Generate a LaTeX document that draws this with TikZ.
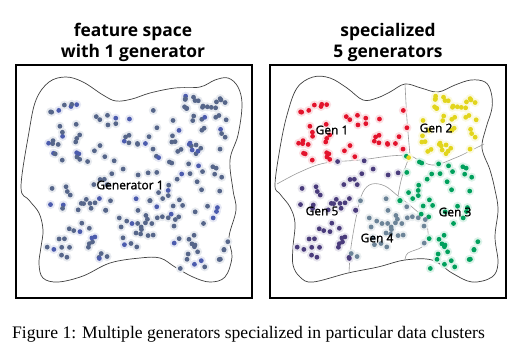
\documentclass[tikz,border=0pt]{standalone}
\usepackage{fontspec}
\setmainfont{Liberation Serif}
\newfontfamily\osans{Open Sans}
\newfontfamily\osanslbl[FakeBold=1.2]{Open Sans}
\definecolor{dotL}{HTML}{56668A}
\definecolor{dotLb}{HTML}{4C5CAE}
\definecolor{cRed}{HTML}{E3132C}
\definecolor{cYel}{HTML}{E2D51C}
\definecolor{cGrn}{HTML}{00A05C}
\definecolor{cPur}{HTML}{4A3C7C}
\definecolor{cSte}{HTML}{6C8498}
\definecolor{blobline}{HTML}{404040}
\definecolor{divline}{HTML}{9A9A9A}
\tikzset{
  frame/.style={draw=black,line width=2.2pt},
  blob/.style={draw=blobline,line width=0.7pt},
  divider/.style={draw=divline,line width=0.6pt},
  ttl/.style={font=\osans\bfseries\fontsize{17.4}{20}\selectfont,anchor=base,inner sep=0pt},
  lbl/.style={font=\osanslbl\fontsize{12}{14}\selectfont,inner sep=0pt},
  captext/.style={font=\fontsize{17.6}{20}\selectfont,anchor=base west,inner sep=0pt},
}
\def\dotmode{0}
\def\dotpass{0}
\newcommand\dotat[3]{%
  \ifnum\dotmode=0
    \pgfmathtruncatemacro\blu{#3<0.22?1:0}%
    \ifnum\blu=1 \def\dc{dotLb}\else\def\dc{dotL}\fi
    \edef\X{#1}%
  \else
    \pgfmathsetmacro\X{#1+250}%
    \pgfmathsetmacro\gone{\X<320 ? 163+(320-\X)*0.49 : 163-(\X-320)*0.125}%
    \pgfmathsetmacro\gtwo{160-(\X-411)*0.18}%
    \pgfmathtruncatemacro\reg{(\X<408 && #2<\gone) ? 1 : ((\X>=408 && #2<\gtwo) ? 2 : ((#2>185+max(0,\X-375)*0.65 && \X<428 && \X>350+max(0,250-#2)*0.2) ? 4 : ((\X>404-(#2-155)*0.2) ? 3 : 5)))}%
    \ifcase\reg\or\def\dc{cRed}\or\def\dc{cYel}\or\def\dc{cGrn}\or\def\dc{cSte}\or\def\dc{cPur}\fi
  \fi
  \ifnum\dotpass=0
    \fill[\dc!14] (\X,#2) circle (4.5);
  \else
    \fill[\dc] (\X,#2) circle (2.4);
  \fi}
\newcommand\dotrect[5]{%
  \foreach \i in {1,...,#1}{%
    \pgfmathsetmacro\px{#2+#3*rnd}%
    \pgfmathsetmacro\py{#4+#5*rnd}%
    \pgfmathsetmacro\pc{rnd}%
    \dotat{\px}{\py}{\pc}%
  }}
\newcommand\dotpanel{%
  \pgfmathsetseed{4711}%
  \dotrect{78}{47}{65}{104}{156}%
  \dotrect{120}{112}{116}{110}{143}%
  \dotrect{10}{178}{50}{96}{14}%
  \dotrect{8}{180}{45}{254}{16}%
  \dotrect{8}{185}{25}{95}{15}%
}
\begin{document}
\begin{tikzpicture}[x=1pt,y=-1pt]
\useasboundingbox (0,0) rectangle (529,351);
\fill[white] (0,0) rectangle (529,351);
% titles
\node[ttl] (t1a) at (133,36) {feature space};
\node[ttl] (t1b) at (133,57) {with 1 generator};
\node[ttl] (t2a) at (388,36) {specialized};
\node[ttl] (t2b) at (388,57) {5 generators};
% left blob
\draw[blob] plot[smooth cycle,tension=0.6] coordinates {
 (21,187) (29,132) (36,100) (49,82) (66,77) (83,82) (103,95) (116,101)
 (132,99) (150,93) (175,88) (200,87) (215,80) (228,78) (238,87) (242,105)
 (238,135) (230,160) (233,190) (236,210) (229,237) (232,257) (225,277)
 (210,282) (193,277) (175,267) (160,258) (140,258) (110,263) (83,276)
 (58,282) (43,278) (39,264) (41,247) (43,230) (39,213) (29,200)};
% right blob
\draw[blob] plot[smooth cycle,tension=0.6] coordinates {
 (275,185) (280,148) (287,115) (297,88) (313,77) (330,78) (347,88) (363,100)
 (377,98) (390,92) (405,84) (421,88) (438,92) (455,85) (471,80) (485,82)
 (491,92) (492,108) (486,128) (482,148) (490,170) (495,190) (498,210)
 (495,237) (498,263) (492,277) (472,282) (452,273) (432,260) (405,260)
 (378,267) (348,273) (313,282) (300,277) (293,265) (293,247) (295,223)
 (290,207) (280,194)};
% dividers
\draw[divider] plot[smooth,tension=0.6] coordinates {(405,84) (407,120) (410,155)};
\draw[divider] plot[smooth,tension=0.6] coordinates {(277,184) (300,172) (325,163) (360,160) (390,156) (410,155)};
\draw[divider] plot[smooth,tension=0.6] coordinates {(410,155) (432,165) (455,158) (476,148) (484,144)};
\draw[divider] plot[smooth,tension=0.6] coordinates {(410,155) (402,177) (398,196)};
\draw[divider] plot[smooth,tension=0.6] coordinates {(349,273) (351,247) (357,213) (363,192) (372,184) (385,186) (398,196) (412,207) (425,220) (428,237) (422,247) (408,253) (405,260)};
% dots
\def\dotmode{0}\def\dotpass{0}\dotpanel
\def\dotmode{0}\def\dotpass{1}\dotpanel
\def\dotmode{1}\def\dotpass{0}\dotpanel
\def\dotmode{1}\def\dotpass{1}\dotpanel
% labels
\node[lbl] (g1) at (130,185) {Generator 1};
\node[lbl] (r1) at (332,130) {Gen 1};
\node[lbl] (r2) at (436,128) {Gen 2};
\node[lbl] (r3) at (455,212) {Gen 3};
\node[lbl] (r4) at (377,238) {Gen 4};
\node[lbl] (r5) at (322,211) {Gen 5};
% frames
\draw[frame] (16,65) rectangle (252,298);
\draw[frame] (270,65) rectangle (506,298);
% caption
\node[captext] (figcap) at (12,338) {Figure 1: Multiple generators specialized in particular data clusters};
\end{tikzpicture}
\end{document}
